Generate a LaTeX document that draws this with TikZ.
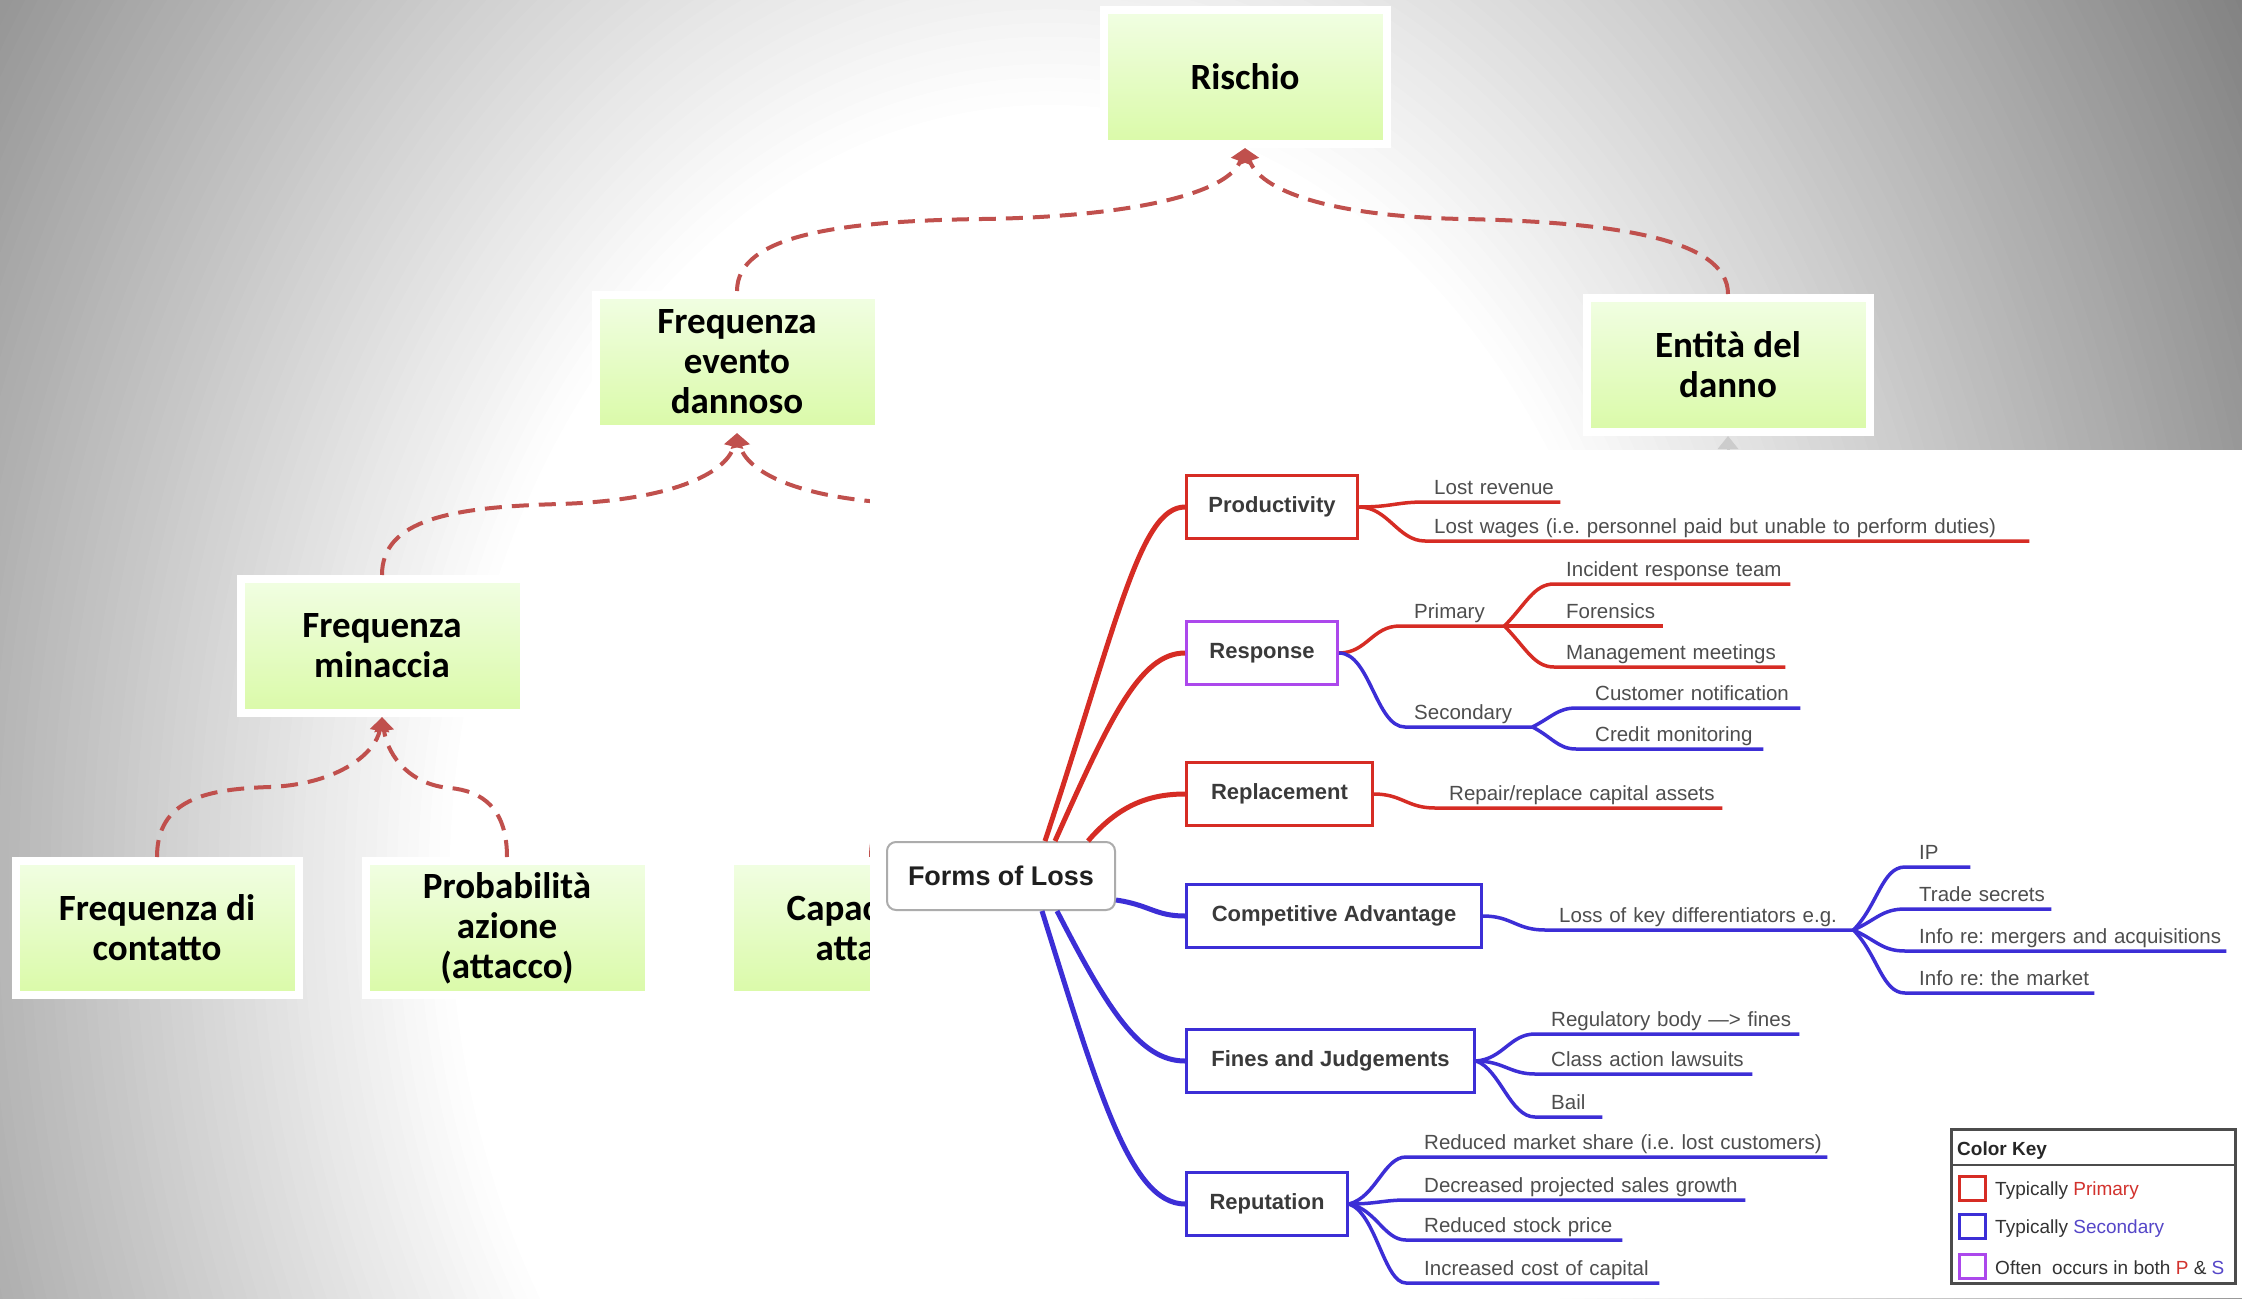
\documentclass[tikz,border=0pt]{standalone}
\usepackage{fontspec}
\setmainfont{Liberation Sans}
\newfontfamily\slidefont{Carlito}
\usetikzlibrary{arrows.meta,calc}
\frenchspacing

\definecolor{riskred}{HTML}{C0504D}
\definecolor{boxtop}{HTML}{F1FEE3}
\definecolor{boxbot}{HTML}{DAFAA8}
\definecolor{bgedge}{RGB}{122,122,122}
\definecolor{mmred}{RGB}{214,44,36}
\definecolor{mmblue}{RGB}{60,46,214}
\definecolor{mmpurple}{RGB}{172,72,236}
\definecolor{leaftext}{RGB}{78,78,78}
\definecolor{boxtext}{RGB}{58,58,58}
\definecolor{keyred}{RGB}{210,50,45}
\definecolor{keyblue}{RGB}{85,70,200}

\begin{document}
\begin{tikzpicture}[x=1pt, y=-1pt,
  greenbox/.style={draw=white, line width=8pt, top color=boxtop, bottom color=boxbot,
    minimum width=283pt, minimum height=134pt, inner sep=0pt, align=center, text=black,
    font=\slidefont\bfseries\fontsize{37}{40}\selectfont},
  riskarrow/.style={draw=riskred, line width=4pt, dash pattern=on 17pt off 10pt,
    -{Triangle[length=14pt,width=19pt]}},
  mmbox/.style={draw=#1, line width=3pt, fill=white, minimum height=63pt, inner sep=0pt,
    text=boxtext, font=\bfseries\fontsize{22}{26}\selectfont},
  branch/.style={draw=#1, line width=5pt},
  twig/.style={draw=#1, line width=3.5pt},
  leaf/.style 2 args={anchor=south west, inner sep=0pt, text depth=7pt, text height=16pt,
    align=left, text width=#1, execute at begin node={\hspace*{#2}},
    font=\fontsize{20.5}{24}\selectfont, text=leaftext},
  keysq/.style={draw=#1, line width=3pt, fill=white, minimum width=26pt, minimum height=24pt, inner sep=0pt},
  keytext/.style={anchor=west, inner sep=0pt, font=\fontsize{19}{22}\selectfont, text=black!80}
]
\useasboundingbox (0,0) rectangle (2242,1298);

% slide background: concentric rings fading from grey to white
\begin{scope}
  \clip (0,0) rectangle (2242,1298);
  \fill[bgedge] (0,0) rectangle (2242,1298);
  \foreach \i in {0,...,79}{
    \pgfmathsetmacro{\f}{1-0.58*\i/79}
    \pgfmathsetmacro{\p}{100*(1-\i/79)}
    \fill[bgedge!\p!white] (1050,886) ellipse [x radius=1430*\f, y radius=1860*\f];
  }
\end{scope}

% risk decomposition boxes
\node[greenbox] (risk) at (1245,77)  {Rischio};
\node[greenbox] (fed)  at (737,362)  {Frequenza\\evento\\dannoso};
\node[greenbox] (ent)  at (1728,365) {Entità del\\danno};
\node[greenbox] (fm)   at (382,646)  {Frequenza\\minaccia};
\node[greenbox] (fc)   at (157,928)  {Frequenza di\\contatto};
\node[greenbox] (pa)   at (507,928)  {Probabilità\\azione\\(attacco)};
\node[greenbox] (cap)  at (871,928)  {Capacità di\\attacco};

\coordinate (vulntop) at (1092,575);
\coordinate (vulnbot) at (1092,719);
\coordinate (dmgsrc)  at (1728,620);

% dashed dependency arrows
\draw[riskarrow] (fed.north) .. controls (737,235) and (840,221) .. (982,219)
                 .. controls (1125,217) and (1228,195) .. (risk.south);
\draw[riskarrow] (ent.north) .. controls (1728,238) and (1610,222) .. (1464,219)
                 .. controls (1345,217) and (1262,195) .. (risk.south);
\draw[riskarrow] (fm.north) .. controls (382,520) and (450,507) .. (560,504)
                 .. controls (680,500) and (728,470) .. (fed.south);
\draw[riskarrow] (vulntop) .. controls (1092,520) and (1024,507) .. (914,504)
                 .. controls (794,500) and (746,470) .. (fed.south);
\draw[riskarrow] (fc.north) .. controls (157,800) and (205,789) .. (270,787)
                 .. controls (340,784) and (376,752) .. (fm.south);
\draw[riskarrow] (pa.north) .. controls (507,808) and (482,791) .. (450,788)
                 .. controls (412,785) and (388,758) .. (fm.south);
\draw[riskarrow] (cap.north) .. controls (871,800) and (919,789) .. (984,787)
                 .. controls (1054,784) and (1090,752) .. (vulnbot);
\draw[draw=gray!40, line width=3pt, -{Triangle[length=13pt,width=20pt]}] (dmgsrc) -- (ent.south);

% pasted mind map panel
\fill[white] (870,450) rectangle (2242,1298);

\node[draw=gray!65, line width=2pt, rounded corners=9pt, fill=white, minimum width=228pt,
      minimum height=68pt, inner sep=0pt, font=\bfseries\fontsize{27}{32}\selectfont,
      text=black!88] (root) at (1001,876) {Forms of Loss};

\node[mmbox=mmred,    minimum width=171pt] (prod)  at (1272,507)    {Productivity};
\node[mmbox=mmpurple, minimum width=151pt] (resp)  at (1262,653)    {Response};
\node[mmbox=mmred,    minimum width=186pt] (repl)  at (1279.5,794)  {Replacement};
\node[mmbox=mmblue,   minimum width=295pt] (comp)  at (1334,916)    {Competitive Advantage};
\node[mmbox=mmblue,   minimum width=288pt] (fines) at (1330.5,1061) {Fines and Judgements};
\node[mmbox=mmblue,   minimum width=161pt] (rep)   at (1267,1204)   {Reputation};

\draw[branch=mmred]  ($(root.north)+(44,0)$) .. controls (1118,620) and (1140,507) .. (prod.west);
\draw[branch=mmred]  ($(root.north)+(54,0)$) .. controls (1110,718) and (1140,653) .. (resp.west);
\draw[branch=mmred]  ($(root.north)+(87,0)$) .. controls (1118,806) and (1148,794) .. (repl.west);
\draw[branch=mmblue] ($(root.east)+(0,24)$) .. controls (1150,905) and (1155,916) .. (comp.west);
\draw[branch=mmblue] ($(root.south)+(56,0)$) .. controls (1108,1010) and (1140,1061) .. (fines.west);
\draw[branch=mmblue] ($(root.south)+(41,0)$) .. controls (1098,1090) and (1130,1204) .. (rep.west);

% Productivity
\node[leaf={135pt}{9pt}] (lostrev) at (1425,502) {Lost revenue};
\node[leaf={604pt}{9pt}] (lostwag) at (1425,541) {Lost wages (i.e. personnel paid but unable to perform duties)};
\draw[twig=mmred] (prod.east) .. controls (1392,507) and (1396,502) .. (lostrev.south west) -- (lostrev.south east);
\draw[twig=mmred] (prod.east) .. controls (1388,507) and (1398,541) .. (lostwag.south west) -- (lostwag.south east);

% Response
\node[leaf={104pt}{14pt}] (prim) at (1400,626) {Primary};
\node[leaf={127pt}{9pt}]  (sec)  at (1405,727) {Secondary};
\draw[twig=mmred]  (resp.east) .. controls (1367,653) and (1372,626) .. (prim.south west) -- (prim.south east);
\draw[twig=mmblue] (resp.east) .. controls (1370,653) and (1376,727) .. (sec.south west) -- (sec.south east);
\node[leaf={236pt}{12pt}] (irt)   at (1554,584) {Incident response team};
\node[leaf={109pt}{12pt}] (foren) at (1554,626) {Forensics};
\node[leaf={231pt}{12pt}] (mgmt)  at (1554,667) {Management meetings};
\draw[twig=mmred] (prim.south east) .. controls (1526,604) and (1534,584) .. (irt.south west) -- (irt.south east);
\draw[twig=mmred] (prim.south east) -- (foren.south west) -- (foren.south east);
\draw[twig=mmred] (prim.south east) .. controls (1526,648) and (1534,667) .. (mgmt.south west) -- (mgmt.south east);
\node[leaf={224pt}{19pt}] (cust)   at (1576,708) {Customer notification};
\node[leaf={187pt}{19pt}] (credit) at (1576,749) {Credit monitoring};
\draw[twig=mmblue] (sec.south east) .. controls (1552,717) and (1558,708) .. (cust.south west) -- (cust.south east);
\draw[twig=mmblue] (sec.south east) .. controls (1552,737) and (1558,749) .. (credit.south west) -- (credit.south east);

% Replacement
\node[leaf={287pt}{14pt}] (repair) at (1435,808) {Repair/replace capital assets};
\draw[twig=mmred] (repl.east) .. controls (1402,794) and (1407,808) .. (repair.south west) -- (repair.south east);

% Competitive Advantage
\node[leaf={308pt}{14pt}] (lossdiff) at (1545,930) {Loss of key differentiators e.g.};
\draw[twig=mmblue] (comp.east) .. controls (1512,916) and (1516,930) .. (lossdiff.south west) -- (lossdiff.south east);
\node[leaf={65pt}{14pt}]  (ip)    at (1905,867) {IP};
\node[leaf={146pt}{14pt}] (trade) at (1905,909) {Trade secrets};
\node[leaf={321pt}{14pt}] (merg)  at (1905,951) {Info re: mergers and acquisitions};
\node[leaf={189pt}{14pt}] (mkt)   at (1905,993) {Info re: the market};
\draw[twig=mmblue] (lossdiff.south east) .. controls (1878,905) and (1882,867) .. (ip.south west) -- (ip.south east);
\draw[twig=mmblue] (lossdiff.south east) .. controls (1876,920) and (1882,909) .. (trade.south west) -- (trade.south east);
\draw[twig=mmblue] (lossdiff.south east) .. controls (1876,940) and (1882,951) .. (merg.south west) -- (merg.south east);
\draw[twig=mmblue] (lossdiff.south east) .. controls (1878,955) and (1882,993) .. (mkt.south west) -- (mkt.south east);

% Fines and Judgements
\node[leaf={264pt}{16pt}] (reg)   at (1535,1034) {Regulatory body —> fines};
\node[leaf={217pt}{16pt}] (class) at (1535,1074) {Class action lawsuits};
\node[leaf={67pt}{16pt}]  (bail)  at (1535,1117) {Bail};
\draw[twig=mmblue] (fines.east) .. controls (1503,1059) and (1510,1034) .. (reg.south west) -- (reg.south east);
\draw[twig=mmblue] (fines.east) .. controls (1503,1061) and (1510,1074) .. (class.south west) -- (class.south east);
\draw[twig=mmblue] (fines.east) .. controls (1500,1069) and (1510,1117) .. (bail.south west) -- (bail.south east);

% Reputation
\node[leaf={421pt}{18pt}] (rms) at (1406,1157) {Reduced market share (i.e. lost customers)};
\node[leaf={339pt}{18pt}] (dps) at (1406,1200) {Decreased projected sales growth};
\node[leaf={216pt}{18pt}] (rsp) at (1406,1240) {Reduced stock price};
\node[leaf={253pt}{18pt}] (icc) at (1406,1283) {Increased cost of capital};
\draw[twig=mmblue] (rep.east) .. controls (1376,1197) and (1384,1157) .. (rms.south west) -- (rms.south east);
\draw[twig=mmblue] (rep.east) .. controls (1376,1204) and (1384,1200) .. (dps.south west) -- (dps.south east);
\draw[twig=mmblue] (rep.east) .. controls (1376,1209) and (1384,1240) .. (rsp.south west) -- (rsp.south east);
\draw[twig=mmblue] (rep.east) .. controls (1376,1213) and (1384,1283) .. (icc.south west) -- (icc.south east);

% colour key
\node[draw=black!70, line width=2.5pt, minimum width=284pt, minimum height=154pt, inner sep=0pt,
      anchor=north west] (key) at (1950,1128) {};
\draw[black!70, line width=2.5pt] (1950,1165) -- (2234,1165);
\node[anchor=base west, inner sep=0pt, font=\bfseries\fontsize{19}{22}\selectfont, text=black!85]
      (keytitle) at (1957,1155) {Color Key};
\node[keysq=mmred]    (sqp) at (1972.5,1188) {};
\node[keysq=mmblue]   (sqs) at (1972.5,1226) {};
\node[keysq=mmpurple] (sqb) at (1972.5,1266) {};
\node[keytext] (kp) at (1995,1191) {Typically \textcolor{keyred}{Primary}};
\node[keytext] (ks) at (1995,1229) {Typically \textcolor{keyblue}{Secondary}};
\node[keytext] (kb) at (1995,1268) {Often\ \ occurs in both \textcolor{keyred}{P} \& \textcolor{keyblue}{S}};
\end{tikzpicture}
\end{document}
